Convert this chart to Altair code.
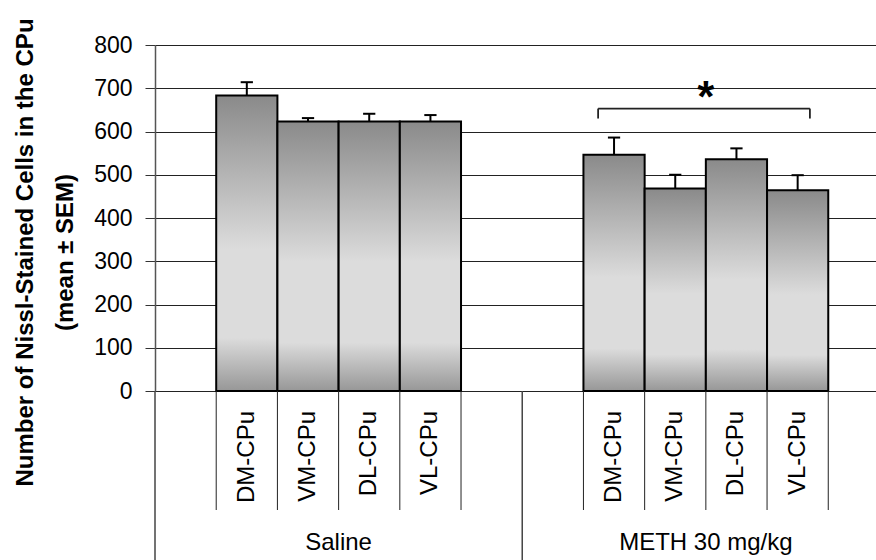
import altair as alt
import pandas as pd

# ---------------- data ----------------
groups = ["Saline", "METH 30 mg/kg"]
regions = ["DM-CPu", "VM-CPu", "DL-CPu", "VL-CPu"]
saline_mean = [683, 623, 623, 623]
saline_sem = [31, 8, 18, 15]
meth_mean = [546, 468, 536, 464]
meth_sem = [40, 32, 25, 35]
y_ticks = [0, 100, 200, 300, 400, 500, 600, 700, 800]
y_title = ["Number of Nissl-Stained Cells in the CPu", "(mean \u00b1 SEM)"]
sig_text = "*"
bracket_level = 653
bracket_leg_end = 630
sig_level = 645

FONT = "Liberation Sans"
SLOTS = 6  # one empty slot, four bars, one empty slot per group

rows = []
for g, (gname, means, sems) in enumerate(zip(groups, [saline_mean, meth_mean], [saline_sem, meth_sem])):
    for i, (r, m, s) in enumerate(zip(regions, means, sems)):
        slot = g * SLOTS + 1 + i
        rows.append(dict(group=gname, region=r, mean=m, sem=s,
                         x0=slot, x1=slot + 1, xc=slot + 0.5,
                         upper=m + s, cap0=slot + 0.4, cap1=slot + 0.6))
df = pd.DataFrame(rows)

grp = pd.DataFrame({"group": groups, "xc": [g * SLOTS + 3 for g in range(len(groups))]})
inner_div = pd.DataFrame({"x": [g * SLOTS + k for g in range(len(groups)) for k in range(1, 6)]})
outer_div = pd.DataFrame({"x": [g * SLOTS for g in range(len(groups) + 1)]})

meth_rows = df[df.group == groups[1]]
bx0 = meth_rows.x0.min() + 0.24
bx1 = meth_rows.x1.max() - 0.30
bracket_h = pd.DataFrame({"a": [bx0], "b": [bx1], "y": [bracket_level]})
bracket_v = pd.DataFrame({"x": [bx0, bx1], "y": [bracket_level] * 2, "y2": [bracket_leg_end] * 2})
sig = pd.DataFrame({"x": [grp.xc.iloc[1]], "y": [sig_level], "t": [sig_text]})

xs = alt.Scale(domain=[0, 11.78], nice=False, zero=False, padding=0)
ys = alt.Scale(domain=[0, 800], nice=False, padding=0)

grad = alt.Gradient(
    gradient="linear", x1=0, x2=0, y1=0, y2=1,
    stops=[alt.GradientStop(color="#8a8a8a", offset=0),
           alt.GradientStop(color="#dcdcdc", offset=0.52),
           alt.GradientStop(color="#dcdcdc", offset=0.82),
           alt.GradientStop(color="#979797", offset=1)])

yaxis = alt.Axis(values=y_ticks, grid=True, gridColor="#222222", gridWidth=1,
                 domainColor="#555555", domainWidth=1.5, tickColor="#333333",
                 tickSize=10, labelFontSize=23, labelFont=FONT, labelColor="black",
                 labelPadding=13, title=y_title, titleFont=FONT, titleFontSize=24,
                 titleFontWeight="bold", titleColor="black", titleAngle=270,
                 titleX=-142, titleY=207, titleAlign="center", titleBaseline="top",
                 titleLineHeight=40)

bars = alt.Chart(df).mark_bar(fill=grad, stroke="black", strokeWidth=2).encode(
    x=alt.X("x0:Q", scale=xs, axis=None), x2="x1:Q",
    y=alt.Y("mean:Q", scale=ys, axis=yaxis), y2=alt.datum(0))

err = alt.Chart(df).mark_rule(color="black", strokeWidth=2).encode(
    x=alt.X("xc:Q", scale=xs), y=alt.Y("mean:Q", scale=ys), y2="upper:Q")
caps = alt.Chart(df).mark_rule(color="black", strokeWidth=2).encode(
    x=alt.X("cap0:Q", scale=xs), x2="cap1:Q", y=alt.Y("upper:Q", scale=ys))

inner = alt.Chart(inner_div).mark_rule(color="#222222", strokeWidth=1).encode(
    x=alt.X("x:Q", scale=xs), y=alt.value(346), y2=alt.value(465))
outer = alt.Chart(outer_div).mark_rule(color="#444444", strokeWidth=1.5).encode(
    x=alt.X("x:Q", scale=xs), y=alt.value(346), y2=alt.value(515))

cat_labels = alt.Chart(df).mark_text(angle=270, align="right", baseline="middle",
                                     font=FONT, fontSize=24, color="black").encode(
    x=alt.X("xc:Q", scale=xs), y=alt.value(366), text="region:N")
grp_labels = alt.Chart(grp).mark_text(baseline="alphabetic", font=FONT, fontSize=24,
                                      color="black").encode(
    x=alt.X("xc:Q", scale=xs), y=alt.value(505), text="group:N")

br_h = alt.Chart(bracket_h).mark_rule(color="#222222", strokeWidth=1.8).encode(
    x=alt.X("a:Q", scale=xs), x2="b:Q", y=alt.Y("y:Q", scale=ys))
br_v = alt.Chart(bracket_v).mark_rule(color="#222222", strokeWidth=1.8).encode(
    x=alt.X("x:Q", scale=xs), y=alt.Y("y:Q", scale=ys), y2="y2:Q")
star = alt.Chart(sig).mark_text(font=FONT, fontSize=44, fontWeight="bold",
                                baseline="alphabetic", color="black").encode(
    x=alt.X("x:Q", scale=xs), y=alt.Y("y:Q", scale=ys), text="t:N")

chart = alt.layer(bars, err, caps, inner, outer, cat_labels, grp_labels,
                  br_h, br_v, star).properties(
    width=721, height=346,
    autosize=alt.AutoSizeParams(type="none"),
    padding={"left": 155, "top": 45, "right": 0, "bottom": 169},
).configure_view(stroke=None).configure(background="white")

chart.save("out.html", embed_options={"renderer": "svg", "actions": False})
